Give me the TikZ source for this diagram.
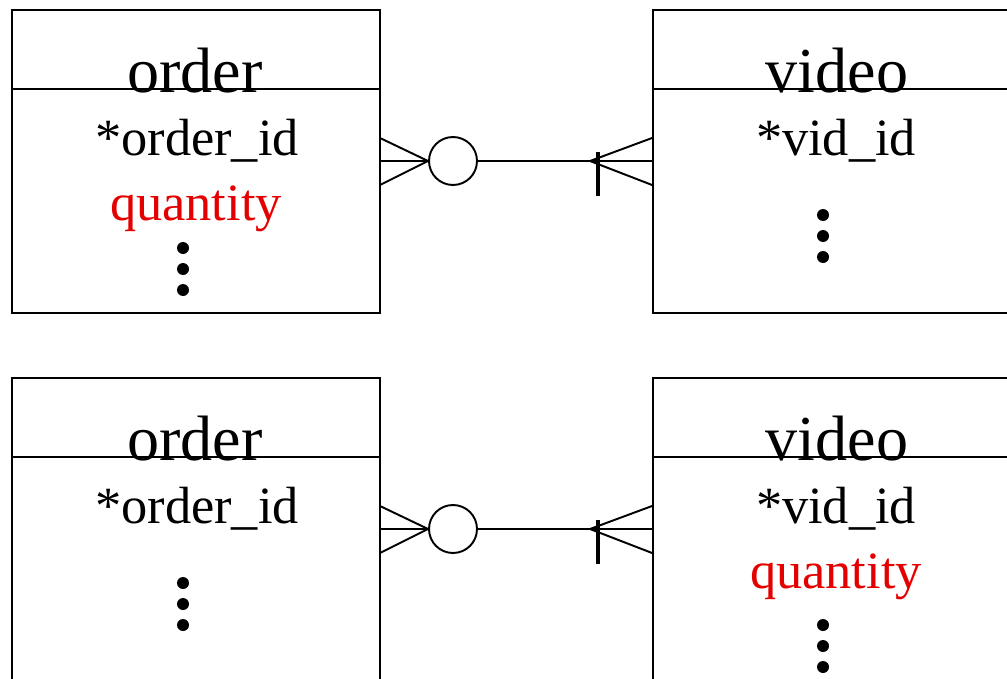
\documentclass[tikz,border=0pt]{standalone}
\usepackage{fontspec}
\setmainfont{Liberation Serif}
\usetikzlibrary{positioning}
\definecolor{attrred}{RGB}{228,0,0}

\begin{document}
\begin{tikzpicture}[
    x=0.02cm, y=-0.02cm,
    line width=1.1pt,
    entity/.style={draw, rectangle, minimum width=7.36cm, minimum height=6.06cm, inner sep=0pt},
    wide/.style={entity, minimum width=7.8cm},
    title/.style={anchor=base, inner sep=0pt, font=\fontsize{36.5}{40}\selectfont},
    attr/.style={anchor=base, inner sep=0pt, font=\fontsize{29.8}{34}\selectfont},
    extra/.style={attr, text=attrred},
    optional/.style={draw, circle, minimum size=0.96cm, inner sep=0pt, fill=white}
]
\useasboundingbox (0,0) rectangle (1007,679);
\clip (0,0) rectangle (1007,679);

% first variant: quantity in order
\node[entity] (order1) at (196,161.5) {};
\node[wide] (video1) at (848,161.5) {};
\draw (order1.west |- 0,89) -- (order1.east |- 0,89);
\draw (video1.west |- 0,89) -- (video1.east |- 0,89);
\node[title] (ordername1) at (195,92) {order};
\node[title] (videoname1) at (837,92) {video};
\node[attr] (orderid1) at (197,155) {*order\_id};
\node[extra] (qty1) at (196,220) {quantity};
\node[attr] (vidid1) at (836,155) {*vid\_id};
\foreach \y in {248,269,290} \fill (183,\y) circle (6);
\foreach \y in {215,236,257} \fill (823,\y) circle (6);

\node[optional] (opt1) at (453,161) {};
\coordinate (many1a) at (380,138);
\coordinate (many1b) at (380,161);
\coordinate (many1c) at (380,185);
\coordinate (one1) at (590,161);
\draw (many1a) -- (opt1.west) -- (many1c);
\draw (many1b) -- (opt1.west);
\draw (opt1.east) -- (video1.west |- opt1);
\draw (one1) -- (video1.west |- 0,138);
\draw (one1) -- (video1.west |- 0,185);
\draw[line width=2.8pt] (598,152) -- (598,196);

% second variant: quantity in video
\node[entity] (order2) at (196,529.5) {};
\node[wide] (video2) at (848,529.5) {};
\draw (order2.west |- 0,457) -- (order2.east |- 0,457);
\draw (video2.west |- 0,457) -- (video2.east |- 0,457);
\node[title] (ordername2) at (195,460) {order};
\node[title] (videoname2) at (837,460) {video};
\node[attr] (orderid2) at (197,523) {*order\_id};
\node[attr] (vidid2) at (836,523) {*vid\_id};
\node[extra] (qty2) at (836,588) {quantity};
\foreach \y in {583,604,625} \fill (183,\y) circle (6);
\foreach \y in {625,646,667} \fill (823,\y) circle (6);

\node[optional] (opt2) at (453,529) {};
\coordinate (many2a) at (380,506);
\coordinate (many2b) at (380,529);
\coordinate (many2c) at (380,553);
\coordinate (one2) at (590,529);
\draw (many2a) -- (opt2.west) -- (many2c);
\draw (many2b) -- (opt2.west);
\draw (opt2.east) -- (video2.west |- opt2);
\draw (one2) -- (video2.west |- 0,506);
\draw (one2) -- (video2.west |- 0,553);
\draw[line width=2.8pt] (598,520) -- (598,564);
\end{tikzpicture}
\end{document}
